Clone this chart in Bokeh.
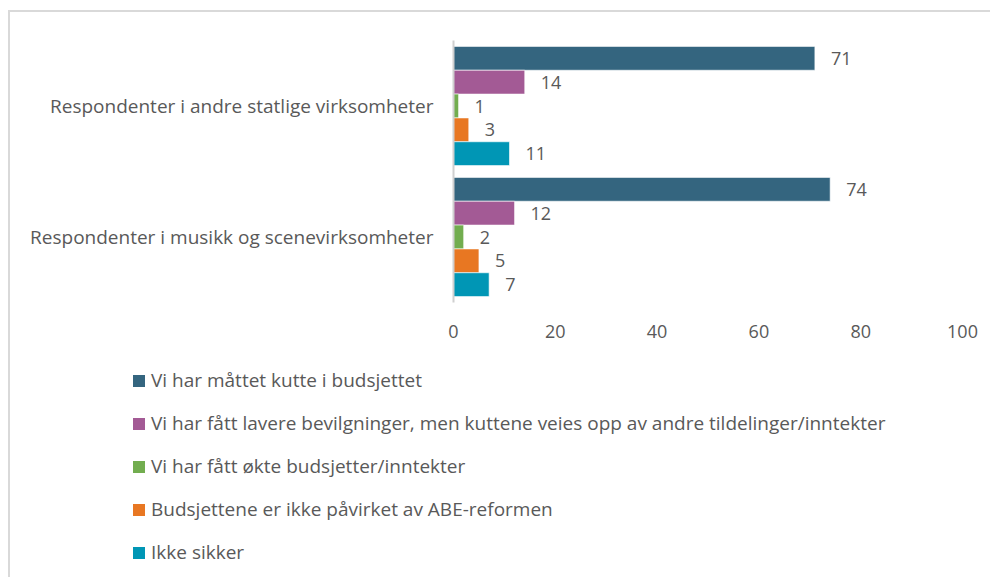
from bokeh.plotting import figure
from bokeh.layouts import column
from bokeh.models import ColumnDataSource, FactorRange, Legend, LegendItem, FixedTicker, Range1d
from bokeh.transform import dodge
from bokeh.core.properties import value
from bokeh.embed import file_html
from bokeh.resources import INLINE

categories = ["Respondenter i andre statlige virksomheter",
              "Respondenter i musikk og scenevirksomheter"]
series_names = ["Vi har måttet kutte i budsjettet",
                "Vi har fått lavere bevilgninger, men kuttene veies opp av andre tildelinger/inntekter",
                "Vi har fått økte budsjetter/inntekter",
                "Budsjettene er ikke påvirket av ABE-reformen",
                "Ikke sikker"]
cut_budget = [71, 74]
lower_grants = [14, 12]
increased = [1, 2]
unaffected = [3, 5]
unsure = [11, 7]
series_values = [cut_budget, lower_grants, increased, unaffected, unsure]
colors = ["#34657f", "#a35a95", "#72ad4f", "#e87722", "#0096b5"]
x_ticks = [0, 20, 40, 60, 80, 100]

FONT = "Open Sans"
TXT = "#595959"

OX, OY = 10, 12          # where the canvas starts on the page
W = 980
H1 = 345
H2 = 220

p = figure(width=W, height=H1, output_backend="svg", toolbar_location=None,
           y_range=FactorRange(factors=categories[::-1]),
           x_range=(0, 100))
p.min_border_left = 453 - OX
p.min_border_top = 40 - OY
p.min_border_right = W - (962 - OX)
p.min_border_bottom = H1 - (302 - OY)
p.outline_line_color = None
p.xgrid.grid_line_color = None
p.ygrid.grid_line_color = None
p.frame_align = False

# legend panel: a second figure whose frame covers the whole canvas
lg = figure(width=W, height=H2, output_backend="svg", toolbar_location=None,
            x_axis_location=None, y_axis_location=None,
            y_range=FactorRange(factors=categories[::-1]),
            x_range=Range1d(0, 100), min_border=0)
lg.outline_line_color = None
lg.xgrid.grid_line_color = None
lg.ygrid.grid_line_color = None
lg.frame_align = False

bar_h = 0.182
offsets = [2 * bar_h, bar_h, 0.0, -bar_h, -2 * bar_h]

items = []
for name, vals, col, off in zip(series_names, series_values, colors, offsets):
    src = ColumnDataSource(dict(cat=categories, val=vals, lab=[str(v) for v in vals]))
    p.hbar(y=dodge("cat", off, range=p.y_range), right="val", left=0, height=bar_h,
           source=src, fill_color=col, line_color="white", line_width=0.6)
    p.text(x="val", y=dodge("cat", off, range=p.y_range), text="lab", source=src,
           x_offset=16, text_align="left", text_baseline="middle",
           text_font=value(FONT), text_font_size="18px", text_color=TXT)
    r = lg.hbar(y=dodge("cat", off, range=lg.y_range), right="val", left=0, height=bar_h,
                source=src, fill_color=col, line_color=None, visible=False)
    items.append(LegendItem(label=name, renderers=[r]))

p.xaxis.ticker = FixedTicker(ticks=x_ticks)
p.xaxis.axis_line_color = None
p.xaxis.major_tick_line_color = None
p.xaxis.minor_tick_line_color = None
p.xaxis.major_tick_out = 0
p.xaxis.major_label_standoff = 22
p.xaxis.major_label_text_font = FONT
p.xaxis.major_label_text_font_size = "18px"
p.xaxis.major_label_text_color = TXT

p.yaxis.axis_line_color = "#d0d0d0"
p.yaxis.axis_line_width = 2
p.yaxis.major_tick_line_color = None
p.yaxis.major_tick_out = 0
p.yaxis.major_label_standoff = 20
p.yaxis.major_label_text_font = FONT
p.yaxis.major_label_text_font_size = "19px"
p.yaxis.major_label_text_color = TXT

legend = Legend(items=items, location=(121, 12),
                orientation="vertical",
                padding=0, margin=0, border_line_color=None, background_fill_alpha=0,
                glyph_width=15, glyph_height=15, label_height=25, spacing=17,
                label_standoff=5, label_text_font=FONT, label_text_font_size="19px",
                label_text_color=TXT, click_policy="none")
lg.add_layout(legend, "center")

layout = column(p, lg, spacing=0,
                styles={"margin-left": "8px", "margin-top": "10px",
                        "border-top": "2px solid #d9d9d9", "border-left": "2px solid #d9d9d9"})

open("out.html", "w").write(file_html(layout, INLINE))
